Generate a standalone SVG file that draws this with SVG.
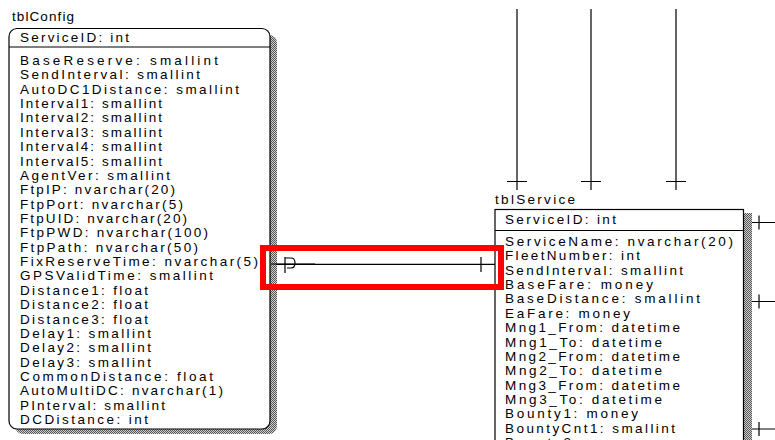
<svg xmlns="http://www.w3.org/2000/svg" width="775" height="440" viewBox="0 0 775 440">
<style>
text{font-family:"Liberation Sans",Arial,sans-serif;font-size:13.5px;fill:#000}
.box{fill:#fff;stroke:#000;stroke-width:1.2}
.sep{stroke:#000;stroke-width:1.2}
.shadow{fill:url(#dither)}
.conn{stroke:#000;stroke-width:1.2;fill:none}
</style>
<defs>
<pattern id="dither" width="2" height="2" patternUnits="userSpaceOnUse">
<rect width="2" height="2" fill="#d0d0d0"/>
<rect width="1" height="1" fill="#555"/>
<rect x="1" y="1" width="1" height="1" fill="#555"/>
</pattern>
</defs>
<rect width="775" height="440" fill="#fff"/>

<g id="tblConfig">
<rect class="shadow" x="15" y="35" width="262" height="399" rx="8"/>
<rect class="box" x="9" y="28.5" width="261" height="400.5" rx="8"/>
<line class="sep" x1="9" y1="47" x2="270" y2="47"/>
<text x="12" y="21" textLength="62">tblConfig</text>
<text x="20" y="42" textLength="109">ServiceID: int</text>
<text x="20" y="65" textLength="198">BaseReserve: smallint</text>
<text x="20" y="79.4" textLength="180">SendInterval: smallint</text>
<text x="20" y="93.7" textLength="219">AutoDC1Distance: smallint</text>
<text x="20" y="108.1" textLength="142">Interval1: smallint</text>
<text x="20" y="122.4" textLength="142">Interval2: smallint</text>
<text x="20" y="136.8" textLength="142">Interval3: smallint</text>
<text x="20" y="151.2" textLength="142">Interval4: smallint</text>
<text x="20" y="165.5" textLength="142">Interval5: smallint</text>
<text x="20" y="179.9" textLength="150">AgentVer: smallint</text>
<text x="20" y="194.2" textLength="155">FtpIP: nvarchar(20)</text>
<text x="20" y="208.6" textLength="163">FtpPort: nvarchar(5)</text>
<text x="20" y="223" textLength="167">FtpUID: nvarchar(20)</text>
<text x="20" y="237.3" textLength="188">FtpPWD: nvarchar(100)</text>
<text x="20" y="251.7" textLength="178">FtpPath: nvarchar(50)</text>
<text x="20" y="266" textLength="238">FixReserveTime: nvarchar(5)</text>
<text x="20" y="280.4" textLength="193">GPSValidTime: smallint</text>
<text x="20" y="294.8" textLength="128">Distance1: float</text>
<text x="20" y="309.1" textLength="128">Distance2: float</text>
<text x="20" y="323.5" textLength="128">Distance3: float</text>
<text x="20" y="337.8" textLength="131">Delay1: smallint</text>
<text x="20" y="352.2" textLength="131">Delay2: smallint</text>
<text x="20" y="366.6" textLength="131">Delay3: smallint</text>
<text x="20" y="380.9" textLength="193">CommonDistance: float</text>
<text x="20" y="395.3" textLength="203">AutoMultiDC: nvarchar(1)</text>
<text x="20" y="409.6" textLength="145">PInterval: smallint</text>
<text x="20" y="424" textLength="128">DCDistance: int</text>
</g>

<g id="tblService">
<rect class="shadow" x="501" y="213" width="251" height="240"/>
<rect class="box" x="495" y="209.5" width="248.5" height="240"/>
<line class="sep" x1="495" y1="230.5" x2="743.5" y2="230.5"/>
<text x="495" y="204" textLength="80">tblService</text>
<text x="505" y="224" textLength="111">ServiceID: int</text>
<text x="505" y="246" textLength="228">ServiceName: nvarchar(20)</text>
<text x="505" y="260.4" textLength="135">FleetNumber: int</text>
<text x="505" y="274.7" textLength="178">SendInterval: smallint</text>
<text x="505" y="289.1" textLength="148">BaseFare: money</text>
<text x="505" y="303.4" textLength="195">BaseDistance: smallint</text>
<text x="505" y="317.8" textLength="125">EaFare: money</text>
<text x="505" y="332.2" textLength="175">Mng1_From: datetime</text>
<text x="505" y="346.5" textLength="157">Mng1_To: datetime</text>
<text x="505" y="360.9" textLength="175">Mng2_From: datetime</text>
<text x="505" y="375.2" textLength="157">Mng2_To: datetime</text>
<text x="505" y="389.6" textLength="175">Mng3_From: datetime</text>
<text x="505" y="404" textLength="157">Mng3_To: datetime</text>
<text x="505" y="418.3" textLength="133">Bounty1: money</text>
<text x="505" y="432.7" textLength="170">BountyCnt1: smallint</text>
<text x="505" y="447" textLength="133">Bounty2: money</text>
</g>

<g id="connectors">
<path class="conn" d="M517,9V190M507,181.5H527"/>
<path class="conn" d="M591,9V190M581,181.5H601"/>
<path class="conn" d="M676,9V190M666,181.5H686"/>
<path class="conn" d="M752,222.5H775M759,215.5V229.5"/>
<path class="conn" d="M752,301.5H775M759,294.5V308.5"/>
<path class="conn" d="M752,429H775M759,422V436"/>
<path class="conn" d="M276,264.3H495M481,257V272"/>
<path class="conn" stroke-width="2" d="M271,264H315"/>
<path class="conn" stroke-width="1.6" d="M285,257V273M285,258H291Q295,258 295,263Q295,268 291,268H287"/>
</g>

<g id="highlight">
<rect x="263" y="248" width="238" height="39" fill="none" stroke="#ff0000" stroke-width="6"/>
</g>
</svg>
